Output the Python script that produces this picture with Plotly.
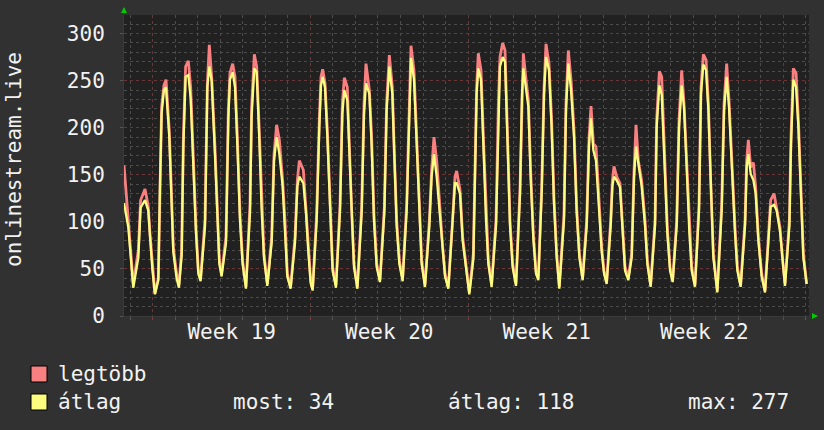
import plotly.graph_objects as go

# hours relative to Monday 00:00 of Week 19
hours = [
    -30.9, -26.3, -21.0, -15.6, -13.2, -8.5, -5.0, -3.2, -0.7, 2.1,
    5.7, 7.5, 9.2, 11.7, 13.9, 17.4, 19.9, 21.7, 25.2, 27.7,
    30.6, 32.4, 34.8, 37.7, 40.2, 43.0, 45.9, 48.4, 50.8,
    55.5, 58.0, 60.1, 62.6, 66.1, 68.6, 70.8, 73.2,
    77.9, 80.4, 82.1, 85.0, 87.5, 90.0, 92.8, 95.6, 99.2,
    103.5, 105.2, 108.1, 110.6, 113.4, 115.9, 118.4, 122.0,
    126.6, 129.1, 131.9, 134.8, 138.3, 140.8, 143.3, 146.8,
    151.5, 154.0, 156.1, 160.4, 163.2, 165.7, 168.2, 170.3,
    174.6, 177.4, 179.2, 181.0, 183.5, 186.0, 188.8, 191.6, 195.2,
    199.5, 202.0, 204.1, 207.3, 209.4, 211.9, 214.4, 218.0,
    222.6, 225.1, 227.2, 230.8, 233.2, 235.7, 238.6, 242.1,
    246.8, 249.2, 252.1, 255.3, 257.4, 259.9, 262.8, 266.3,
    270.6, 273.1, 275.2, 278.4, 281.2, 284.1, 286.6, 290.1,
    294.8, 297.2, 299.7, 302.6, 306.1, 309.0, 311.5, 315.0,
    319.6, 322.1, 323.9, 327.5, 330.3, 333.9, 337.4,
    341.7, 343.5, 345.2, 347.0, 349.9, 352.4, 355.2, 357.7, 361.2,
    365.9, 368.4, 370.1, 373.0, 375.5, 378.0, 380.8, 383.6, 387.2,
    391.5, 393.6, 395.0, 397.9, 400.4, 402.8, 405.7, 408.5, 411.0,
    414.6, 417.1, 419.2, 422.4, 425.2, 427.7, 430.6, 433.4,
    438.4, 440.5, 443.0, 445.9, 449.1, 451.9, 454.8, 458.3,
    462.6, 465.1, 467.2, 469.7, 472.5, 475.0, 478.6, 481.1, 483.9,
    488.2, 490.0, 491.7, 494.6, 498.1, 500.9, 503.5, 507.0,
    510.6, 513.1, 515.2, 517.7, 521.2, 524.8, 527.3, 530.8,
    535.5, 537.2, 540.1, 542.6, 545.4, 548.6, 551.5, 554.3,
    558.6, 561.1, 563.9, 566.4, 569.2, 572.1, 574.6, 578.1,
    582.4, 584.5, 587.0, 589.9, 592.4, 594.8, 597.7, 601.9,
    606.6, 609.1, 611.9, 614.4, 617.2, 620.8, 623.3, 626.8,
    631.5, 633.2, 635.0, 637.5, 640.4, 642.8, 645.7, 649.2, 652.8,
    656.4, 658.8, 662.4, 665.2, 668.8, 671.6, 674.1,
    678.8, 680.5, 683.0, 685.9, 688.4, 690.8, 693.7, 697.2,
]

legtobb = [
    160, 102, 34, 70, 123, 135, 116, 87, 52, 24,
    40, 144, 222, 245, 251, 197, 119, 73, 45, 33,
    70, 190, 265, 271, 243, 165, 94, 48, 40,
    102, 247, 288, 254, 180, 109, 59, 45,
    84, 219, 258, 268, 254, 190, 109, 59, 31,
    119, 222, 278, 265, 197, 119, 66, 34,
    84, 172, 203, 187, 144, 102, 45, 31,
    84, 144, 165, 155, 116, 73, 38, 29,
    109, 208, 254, 262, 247, 197, 116, 52, 33,
    119, 226, 253, 243, 180, 112, 56, 31,
    116, 226, 268, 240, 190, 109, 56, 38,
    116, 226, 277, 243, 172, 102, 59, 40,
    119, 226, 287, 261, 197, 116, 59, 33,
    102, 155, 190, 165, 112, 73, 45, 31,
    102, 148, 154, 134, 84, 52, 25,
    66, 155, 243, 279, 261, 190, 109, 59, 34,
    102, 226, 275, 290, 282, 197, 102, 56, 34,
    137, 243, 279, 251, 229, 155, 87, 48, 41,
    137, 243, 289, 268, 208, 126, 66, 31,
    109, 226, 282, 251, 197, 116, 66, 41,
    102, 190, 223, 183, 180, 130, 73, 48, 36,
    102, 144, 159, 148, 141, 94, 52, 41,
    66, 155, 203, 165, 144, 102, 59, 33,
    102, 208, 260, 254, 172, 94, 52, 38,
    102, 208, 261, 226, 165, 94, 52, 33,
    119, 243, 278, 272, 226, 144, 66, 27,
    119, 226, 268, 229, 165, 94, 52, 33,
    102, 165, 187, 158, 163, 137, 84, 45, 27,
    84, 123, 130, 116, 94, 59, 34,
    102, 190, 263, 258, 208, 137, 66, 34,
]

atlag = [
    120, 94, 30, 62, 115, 123, 112, 85, 50, 23,
    38, 138, 215, 240, 243, 190, 112, 68, 40, 30,
    64, 180, 254, 256, 231, 158, 88, 45, 37,
    95, 243, 265, 250, 172, 102, 55, 42,
    78, 210, 251, 259, 243, 182, 102, 55, 29,
    110, 212, 263, 259, 188, 112, 62, 32,
    78, 165, 190, 172, 138, 96, 42, 29,
    78, 138, 148, 141, 110, 68, 35, 27,
    102, 200, 245, 254, 243, 190, 110, 48, 30,
    112, 215, 240, 229, 172, 105, 52, 29,
    110, 215, 247, 236, 182, 102, 52, 36,
    110, 218, 265, 236, 165, 96, 55, 37,
    112, 218, 274, 251, 190, 110, 55, 31,
    96, 148, 172, 148, 106, 68, 42, 29,
    96, 141, 141, 130, 80, 48, 23,
    60, 148, 236, 263, 251, 182, 102, 55, 31,
    96, 218, 265, 275, 270, 190, 96, 52, 32,
    130, 236, 263, 243, 222, 148, 82, 45, 38,
    130, 236, 275, 261, 200, 120, 62, 29,
    102, 218, 268, 240, 190, 110, 62, 38,
    96, 182, 210, 176, 165, 124, 68, 45, 34,
    96, 138, 148, 144, 137, 90, 48, 38,
    62, 148, 180, 162, 138, 96, 55, 31,
    96, 200, 245, 235, 165, 88, 48, 36,
    96, 200, 245, 222, 158, 88, 48, 31,
    112, 236, 267, 261, 218, 138, 62, 25,
    112, 218, 254, 222, 158, 88, 48, 31,
    96, 158, 172, 151, 144, 130, 80, 42, 25,
    78, 116, 118, 112, 90, 55, 32,
    96, 182, 251, 243, 200, 130, 62, 34,
]

week_starts = [0, 168, 336, 504, 672]
week_label_pos = [84, 252, 420, 588]
week_labels = ["Week 19", "Week 20", "Week 21", "Week 22"]
y_ticks = [0, 50, 100, 150, 200, 250, 300]

stat_most = 34
stat_atlag = 118
stat_max = 277

FONT = "DejaVu Sans Mono"
FS = 21
TXT = "#f2f2f2"
RED = "#f88080"
YEL = "#fcfc7e"

# layout geometry (pixels)
W, H = 824, 430
L, R, T, B = 124, 15, 15, 114
PW, PH = W - L - R, H - T - B


def px_x(p):
    return (p - L) / PW


def px_y(p):
    return (H - B - p) / PH


fig = go.Figure()
fig.add_trace(go.Scatter(x=hours, y=legtobb, mode="lines",
                         line=dict(color=RED, width=2.8), showlegend=False,
                         hoverinfo="skip"))
fig.add_trace(go.Scatter(x=hours, y=atlag, mode="lines",
                         line=dict(color=YEL, width=2.3), showlegend=False,
                         hoverinfo="skip"))
fig.add_trace(go.Scatter(x=[None], y=[None], xaxis="x2", showlegend=False,
                         hoverinfo="skip"))

xr = [-30.9, 699.7]
fig.update_layout(
    width=W, height=H,
    margin=dict(l=L, r=R, t=T, b=B, pad=0),
    paper_bgcolor="#313131",
    plot_bgcolor="#212121",
    font=dict(family=FONT, color=TXT, size=FS),
    xaxis=dict(
        range=xr, tickmode="array", tickvals=week_starts, showticklabels=False,
        showgrid=True, gridcolor="#6a3636", griddash="dot", gridwidth=1,
        ticks="outside", ticklen=3, tickcolor="#8a3a3a",
        minor=dict(tickmode="linear", tick0=0, dtick=24, showgrid=True,
                   gridcolor="#4c4c4c", griddash="dot", gridwidth=1,
                   ticks="outside", ticklen=3, tickcolor="#555555"),
        zeroline=False, showline=True, linecolor="#3a3a3a", linewidth=1,
    ),
    xaxis2=dict(
        range=xr, overlaying="x", anchor="y", side="bottom",
        tickmode="array", tickvals=week_label_pos, ticktext=week_labels,
        showgrid=False, ticks="", zeroline=False, showline=False,
        tickfont=dict(family=FONT, size=FS, color=TXT),
        ticklabelstandoff=1,
    ),
    yaxis=dict(
        range=[0, 319.7], tickmode="array", tickvals=y_ticks,
        showgrid=True, gridcolor="#6a3636", griddash="dot", gridwidth=1,
        ticks="outside", ticklen=3, tickcolor="#555555",
        minor=dict(tickmode="linear", tick0=0, dtick=10, showgrid=True,
                   gridcolor="#4c4c4c", griddash="dot", gridwidth=1),
        zeroline=False, showline=True, linecolor="#3a3a3a", linewidth=1,
        tickfont=dict(family=FONT, size=FS, color=TXT),
        ticklabelstandoff=11,
    ),
)

shapes = []
# legend swatches
for y0, y1, col in [(366, 382, RED), (394, 410, YEL)]:
    shapes.append(dict(type="rect", xref="paper", yref="paper",
                       x0=px_x(31), x1=px_x(47), y0=px_y(y1), y1=px_y(y0),
                       fillcolor=col, line=dict(color="#000000", width=1)))
# axis arrows
shapes.append(dict(type="path", xref="paper", yref="paper",
                   xsizemode="pixel", ysizemode="pixel", xanchor=0, yanchor=1,
                   path="M-3,2 L3,2 L0,8 Z", fillcolor="#00cc00",
                   line=dict(width=0)))
shapes.append(dict(type="path", xref="paper", yref="paper",
                   xsizemode="pixel", ysizemode="pixel", xanchor=1, yanchor=0,
                   path="M3,-3 L3,3 L9,0 Z", fillcolor="#00cc00",
                   line=dict(width=0)))
fig.update_layout(shapes=shapes)

ann = []


def txt(x, y, s, **kw):
    d = dict(xref="paper", yref="paper", x=px_x(x), y=px_y(y), text=s,
             showarrow=False, xanchor="left", yanchor="middle",
             font=dict(family=FONT, size=FS, color=TXT))
    d.update(kw)
    ann.append(d)


txt(56, 374, "legtöbb")
txt(56, 402, "átlag")
txt(231, 402, f"most: {stat_most}")
txt(446, 402, f"átlag: {stat_atlag}")
txt(686, 402, f"max: {stat_max}")
txt(14, 160, "onlinestream.live", xanchor="center", textangle=-90)
fig.update_layout(annotations=ann)

fig.write_html("out.html")
